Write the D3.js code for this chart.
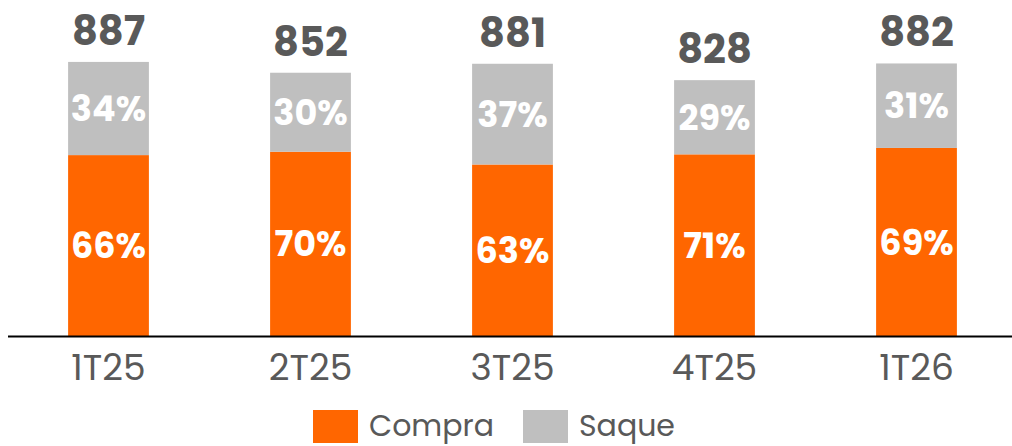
<!DOCTYPE html>
<html>
<head>
<meta charset="utf-8">
<script src="https://cdn.jsdelivr.net/npm/d3@7"></script>
<style>
  body { margin: 0; background: #fff; }
  svg { display: block; font-family: Poppins, Inter, "Open Sans", sans-serif; }
</style>
</head>
<body>
<svg id="chart" width="1012" height="446"></svg>
<script>
const categories = ['1T25', '2T25', '3T25', '4T25', '1T26'];
const totals = [887, 852, 881, 828, 882];
const compraPct = [66, 70, 63, 71, 69];
const saquePct = [34, 30, 37, 29, 31];
const seriesNames = ['Compra', 'Saque'];

const colors = { Compra: '#FF6600', Saque: '#BFBFBF' };
const textColor = '#595959';

const svg = d3.select('#chart');
const baseY = 336;

const x = d3.scaleBand()
  .domain(categories)
  .range([7.5, 1017.5])
  .paddingInner(0.6)
  .paddingOuter(0.3);

const y = d3.scaleLinear()
  .domain([0, 1000])
  .range([baseY, 27]);

const rows = categories.map((c, i) => ({
  cat: c,
  total: totals[i],
  Compra: totals[i] * compraPct[i] / 100,
  Saque: totals[i] * saquePct[i] / 100,
  pct: { Compra: compraPct[i], Saque: saquePct[i] }
}));

const stacked = d3.stack().keys(seriesNames)(rows);

const layers = svg.append('g')
  .selectAll('g')
  .data(stacked)
  .join('g')
  .attr('fill', (d) => colors[d.key]);

layers.selectAll('rect')
  .data((d) => d.map((v) => Object.assign(v, { key: d.key })))
  .join('rect')
  .attr('x', (d) => x(d.data.cat))
  .attr('width', x.bandwidth())
  .attr('y', (d) => y(d[1]))
  .attr('height', (d) => y(d[0]) - y(d[1]));

layers.selectAll('text')
  .data((d) => d)
  .join('text')
  .attr('x', (d) => x(d.data.cat) + x.bandwidth() / 2)
  .attr('y', (d) => (y(d[0]) + y(d[1])) / 2)
  .attr('dy', '0.36em')
  .attr('text-anchor', 'middle')
  .attr('fill', '#fff')
  .attr('font-weight', 700)
  .attr('font-size', 35)
  .text((d) => `${d.data.pct[d.key]}%`);

// totals above bars
svg.append('g')
  .selectAll('text')
  .data(rows)
  .join('text')
  .attr('x', (d) => x(d.cat) + x.bandwidth() / 2)
  .attr('y', (d) => y(d.total) - 17)
  .attr('text-anchor', 'middle')
  .attr('fill', textColor)
  .attr('font-weight', 700)
  .attr('font-size', 40)
  .text((d) => d.total);

// x axis
const axis = svg.append('g')
  .attr('transform', `translate(0,${baseY})`)
  .call(d3.axisBottom(x).tickSize(0).tickPadding(0));

axis.select('.domain')
  .attr('stroke', '#000')
  .attr('stroke-width', 2);

axis.selectAll('text')
  .attr('y', 44)
  .attr('dy', 0)
  .attr('fill', textColor)
  .attr('font-family', 'Poppins, Inter, "Open Sans", sans-serif')
  .attr('font-weight', 400)
  .attr('font-size', 36);

// legend
const legendX = [313, 523];
const legend = svg.append('g')
  .selectAll('g')
  .data(seriesNames)
  .join('g')
  .attr('transform', (d, i) => `translate(${legendX[i]},410)`);

legend.append('rect')
  .attr('width', 45)
  .attr('height', 33)
  .attr('fill', (d) => colors[d]);

legend.append('text')
  .attr('x', 56)
  .attr('y', 26)
  .attr('fill', textColor)
  .attr('font-size', 30)
  .text((d) => d);
</script>
</body>
</html>
